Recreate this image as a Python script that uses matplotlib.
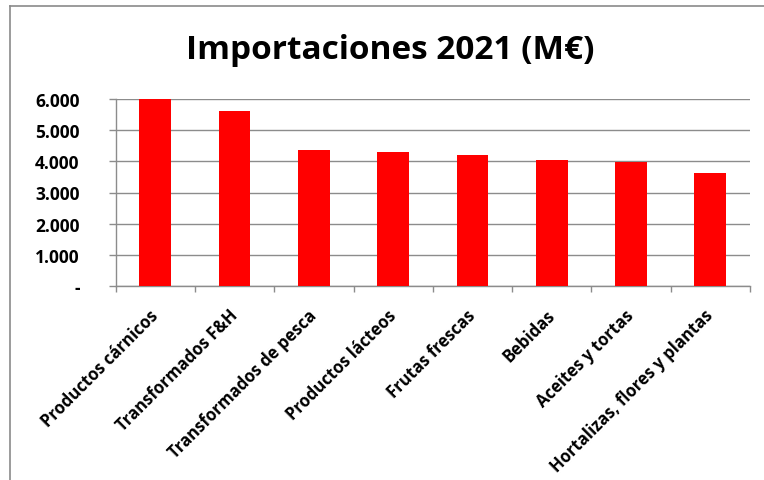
import numpy as np
import matplotlib.pyplot as plt
from matplotlib.lines import Line2D
from matplotlib.ticker import FixedLocator

plt.rcParams['font.family'] = ['Open Sans', 'DejaVu Sans']
plt.rcParams['font.weight'] = 'bold'

categorias = ['Productos cárnicos', 'Transformados F&H', 'Transformados de pesca',
              'Productos lácteos', 'Frutas frescas', 'Bebidas', 'Aceites y tortas',
              'Hortalizas, flores y plantas']
importaciones = [6000, 5610, 4360, 4300, 4200, 4035, 3990, 3635]
yticks = [0, 1000, 2000, 3000, 4000, 5000, 6000]
ytick_labels = ['-', '1.000', '2.000', '3.000', '4.000', '5.000', '6.000']

W, H = 764, 481
fig = plt.figure(figsize=(W / 100, H / 100), dpi=100)
ax = fig.add_axes([115.7 / W, 1 - 286.7 / H, (750 - 115.7) / W, (286.7 - 100.3) / H])

gris = '#8c8c8c'
x = np.arange(len(categorias))
ax.bar(x, importaciones, width=0.4, color='#ff0000', zorder=3)

ax.set_xlim(-0.5, len(categorias) - 0.5)
ax.set_ylim(0, 6000)
ax.set_yticks(yticks)
ax.set_yticklabels(ytick_labels, fontsize=12.5, fontweight='bold')
ax.yaxis.grid(True, color=gris, linewidth=1.0, zorder=0)
ax.tick_params(axis='y', length=5, width=1.0, color=gris, pad=21)

ax.set_xticks(x)
ax.set_xticklabels(categorias, rotation=45, ha='right', va='center',
                   rotation_mode='anchor', fontsize=12, fontweight='bold')
ax.tick_params(axis='x', which='major', length=0, pad=19)
ax.xaxis.set_minor_locator(FixedLocator(np.arange(-0.5, len(categorias), 1.0)))
ax.tick_params(axis='x', which='minor', length=4, width=1.0, color=gris)

for s in ['top', 'right']:
    ax.spines[s].set_visible(False)
for s in ['left', 'bottom']:
    ax.spines[s].set_color(gris)
    ax.spines[s].set_linewidth(1.0)

fig.text(390 / W, 1 - 59 / H, 'Importaciones 2021 (M€)', ha='center', va='baseline',
         fontsize=24, fontweight='bold')

# marco del gráfico
fig.add_artist(Line2D([10 / W, 10 / W], [0, 1 - 7 / H], transform=fig.transFigure,
                      color='#8a8a8a', linewidth=1.2))
fig.add_artist(Line2D([10 / W, 1], [1 - 7 / H, 1 - 7 / H], transform=fig.transFigure,
                      color='#8a8a8a', linewidth=1.2))

fig.savefig('out.png', dpi=100)
